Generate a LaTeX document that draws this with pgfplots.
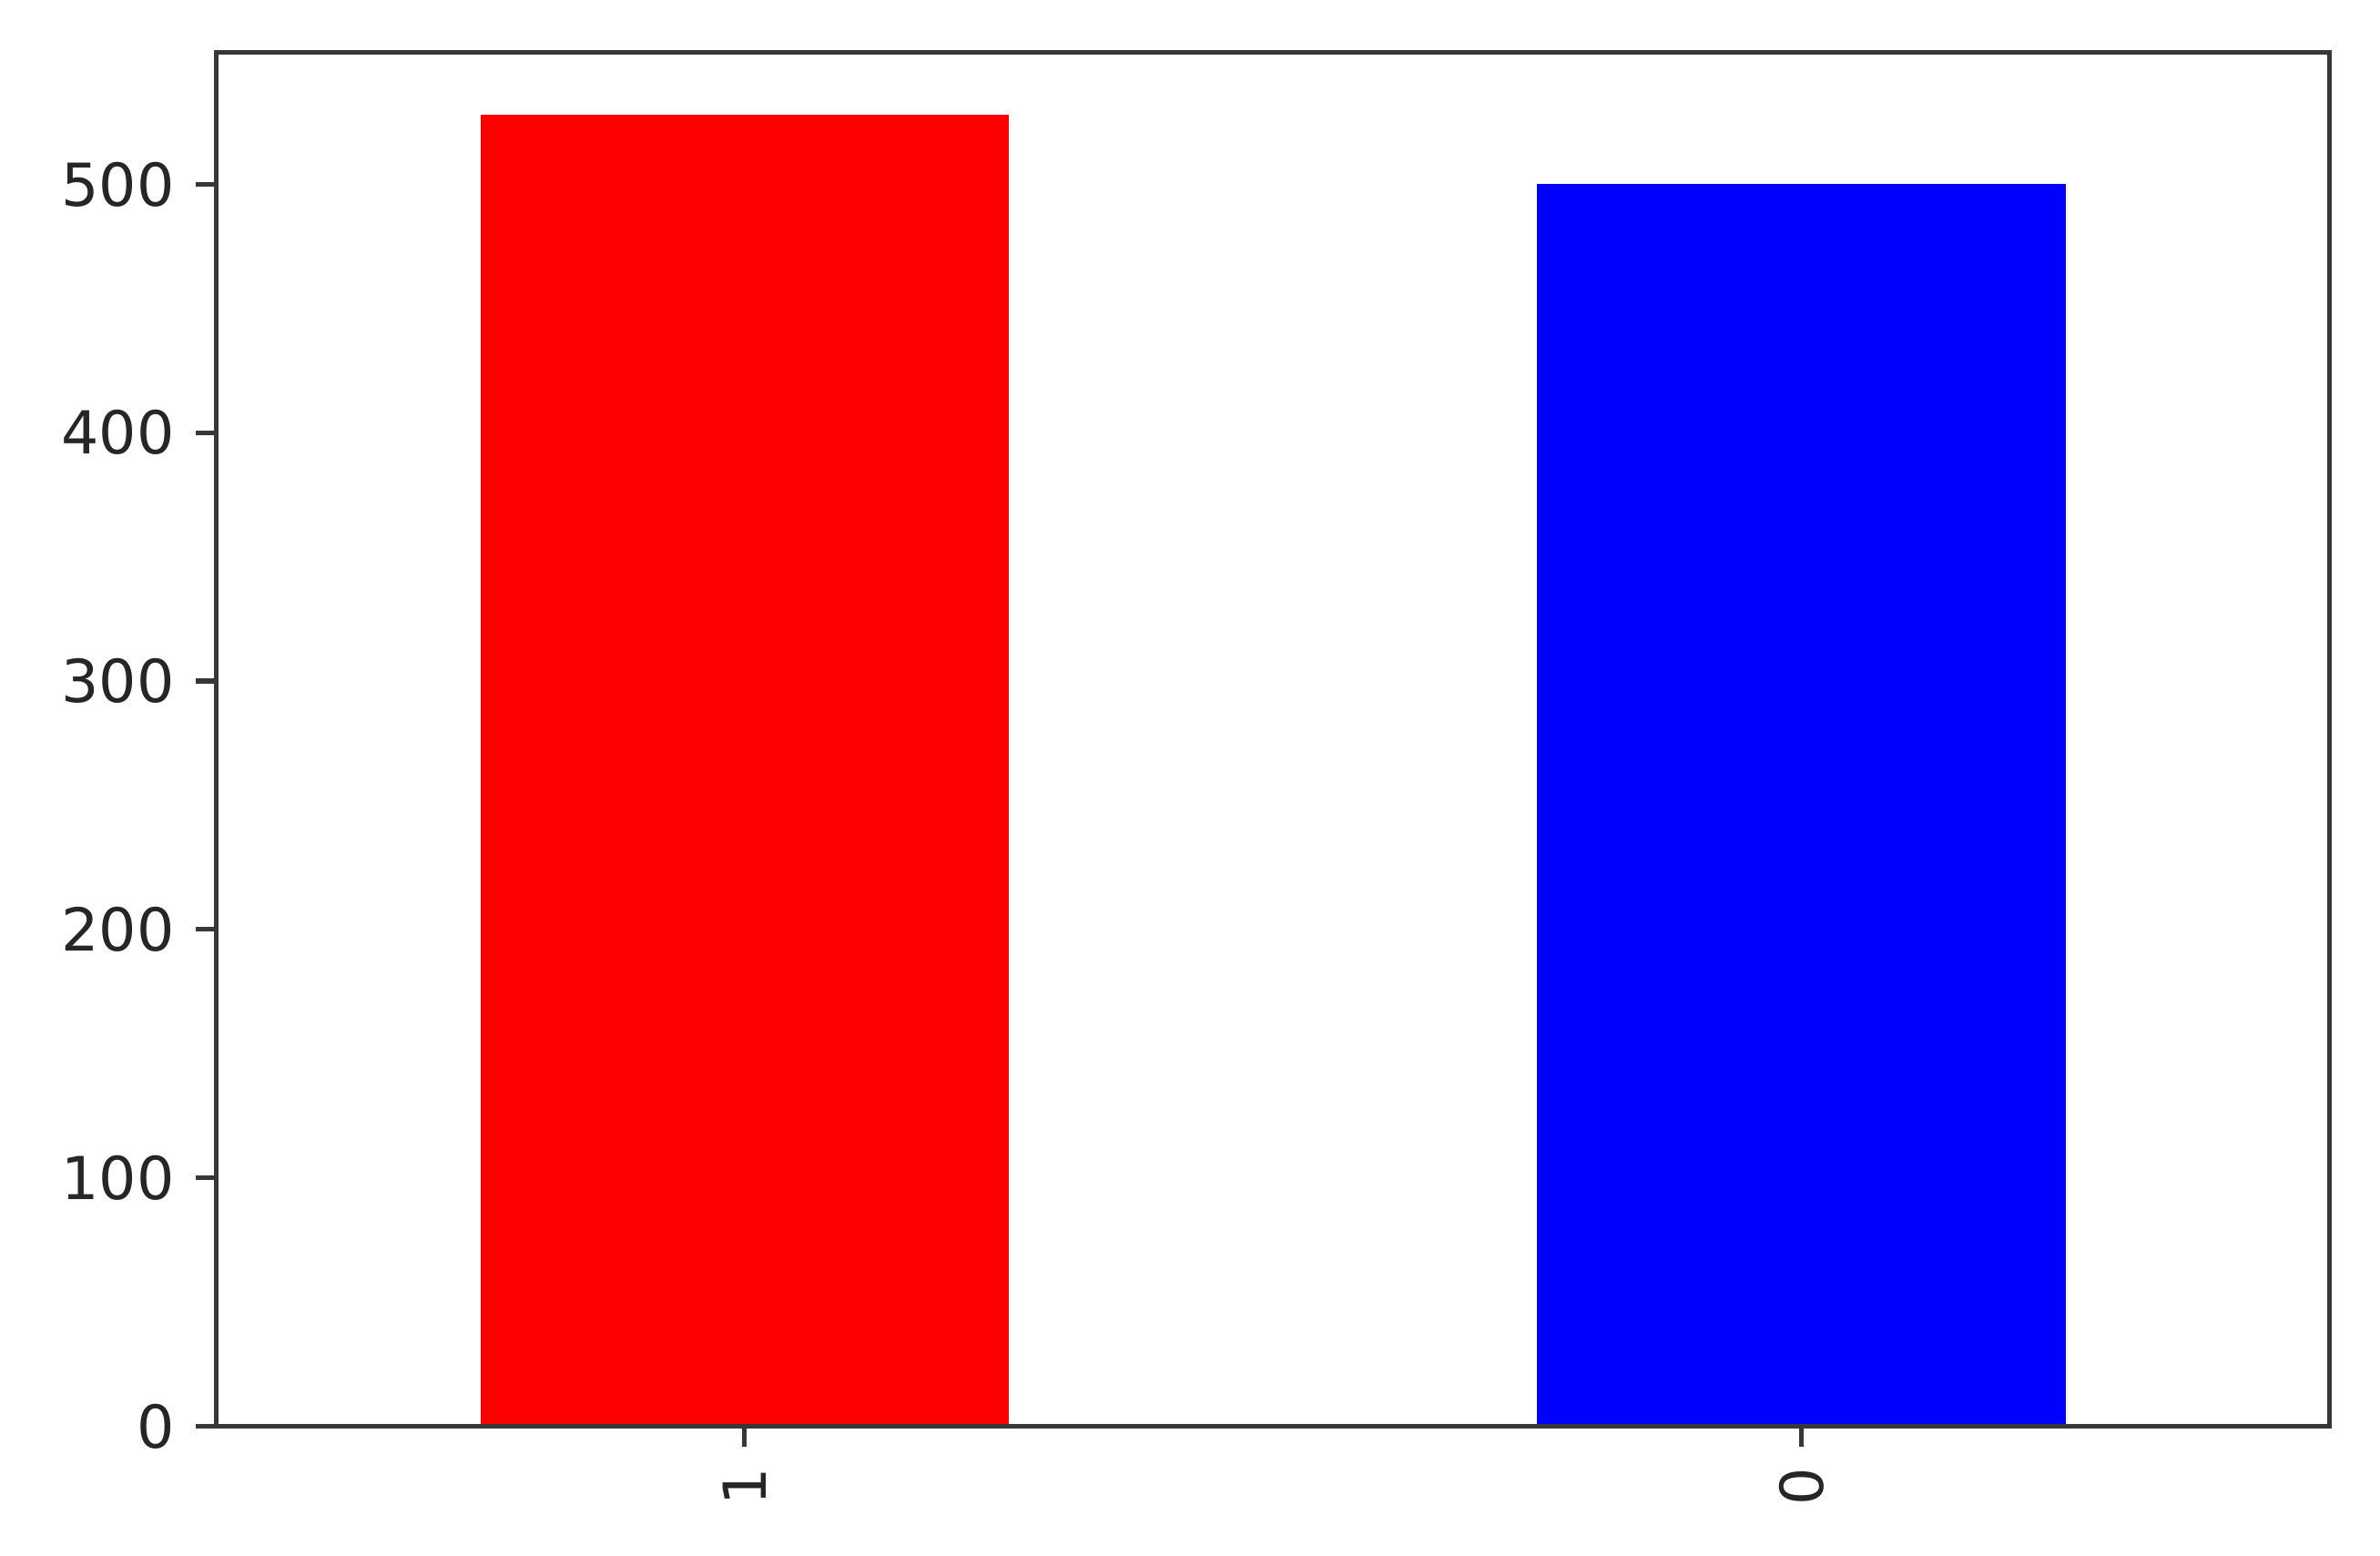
\documentclass[border=0pt]{standalone}
\usepackage{fontspec}
\setmainfont{DejaVu Sans}
\usepackage{pgfplots}
\pgfplotsset{compat=1.18}
\definecolor{mplred}{RGB}{255,0,0}
\definecolor{mplblue}{RGB}{0,0,255}
\definecolor{spine}{RGB}{55,55,55}
\definecolor{ticktext}{RGB}{38,38,38}

\begin{document}
\begin{tikzpicture}
\begin{axis}[
    scale only axis,
    width=357pt,
    height=232pt,
    ybar,
    bar width=0.5,
    bar shift=0pt,
    xmin=-0.5, xmax=1.5,
    ymin=0, ymax=553,
    xtick={0,1},
    xticklabels={1,0},
    ytick={0,100,200,300,400,500},
    x tick label style={rotate=90, anchor=east, text=ticktext, font=\fontsize{10}{12}\selectfont},
    y tick label style={text=ticktext, font=\fontsize{10}{12}\selectfont},
    /pgf/number format/assume math mode=true,
    tick align=outside,
    tick pos=left,
    major tick length=3.5pt,
    tick style={line width=0.8pt, spine},
    axis line style={line width=0.8pt, spine},
    clip=false,
]
\addplot[draw=none, fill=mplred] coordinates {(0,528)};
\addplot[draw=none, fill=mplblue] coordinates {(1,500)};
\end{axis}
% frame drawn over bars, like matplotlib spines
\draw[line width=0.8pt, spine] (current axis.south west) rectangle (current axis.north east);
\path ([xshift=-36.5pt,yshift=-21.8pt]current axis.south west) rectangle ([xshift=8.5pt,yshift=8.9pt]current axis.north east);
\end{tikzpicture}
\end{document}
